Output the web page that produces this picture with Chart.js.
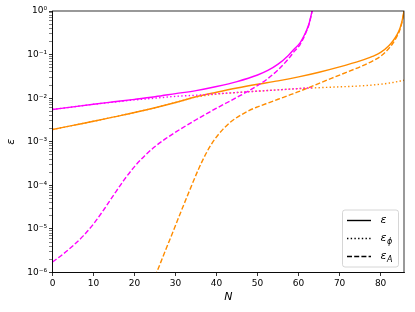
<!DOCTYPE html>
<html><head><meta charset="utf-8">
<script src="https://cdn.jsdelivr.net/npm/chart.js@4/dist/chart.umd.min.js"></script>
<style>html,body{margin:0;padding:0;background:#fff}</style>
</head><body>
<canvas id="c" width="415" height="312"></canvas>
<script>
// ---- data ----
const magentaSolidN = [0,5,10,15,20,25,30,35,40,45,50,52.5,55,57.5,59,60.3,61,62,62.5,63,63.3];
const magentaSolid  = [5.50e-3,6.31e-3,7.25e-3,8.25e-3,9.39e-3,1.08e-2,1.27e-2,1.49e-2,1.85e-2,2.40e-2,3.40e-2,4.32e-2,6.02e-2,9.55e-2,0.136,0.183,0.236,0.372,0.496,0.758,1.02];

const magentaDotN = [0,5,10,15,20,25,30,35,40,45,50,55,60,63.2];
const magentaDot  = [5.50e-3,6.31e-3,7.24e-3,8.13e-3,9.12e-3,1.00e-2,1.10e-2,1.17e-2,1.26e-2,1.35e-2,1.45e-2,1.55e-2,1.66e-2,1.74e-2];

const magentaDashN = [0,2.5,5,7.5,10,12.5,15,17.5,20,22.5,25,27.5,30,32.5,35,37.5,40,42.5,45,47.5,50,52.5,55,57.5,59,60.3,61,62,62.5,63,63.3];
const magentaDash  = [1.74e-6,2.60e-6,4.12e-6,6.92e-6,1.30e-5,2.75e-5,6.17e-5,1.35e-4,2.69e-4,4.79e-4,7.76e-4,1.16e-3,1.66e-3,2.32e-3,3.20e-3,4.37e-3,5.89e-3,7.85e-3,1.05e-2,1.41e-2,1.95e-2,2.82e-2,4.47e-2,7.94e-2,0.120,0.166,0.219,0.355,0.479,0.741,1.0];

const orangeSolidN = [0,5,10,15,20,25,30,35,40,45,50,55,60,65,70,75,78,80,82,83,84,84.7,85.2,85.7];
const orangeSolid  = [1.91e-3,2.37e-3,2.95e-3,3.72e-3,4.68e-3,6.03e-3,7.95e-3,1.08e-2,1.37e-2,1.71e-2,2.08e-2,2.49e-2,3.07e-2,3.93e-2,5.21e-2,7.16e-2,9.05e-2,0.112,0.160,0.205,0.287,0.397,0.575,1.0];

const orangeDotN = [0,5,10,15,20,25,30,35,40,45,50,55,60,65,70,75,80,83,85.7];
const orangeDot  = [1.91e-3,2.37e-3,2.95e-3,3.72e-3,4.68e-3,6.03e-3,7.94e-3,1.06e-2,1.24e-2,1.35e-2,1.45e-2,1.55e-2,1.66e-2,1.74e-2,1.82e-2,1.91e-2,2.09e-2,2.29e-2,2.57e-2];

const orangeDashN = [23,25.4,27,29.4,31,33.5,35.5,37.6,39.5,41.6,43.5,45.7,48,50,53,55,58,60,65,70,75,78,80,82,83,84,84.7,85.2,85.7];
const orangeDash  = [2.82e-7,1.0e-6,2.40e-6,8.71e-6,2.09e-5,7.94e-5,2.24e-4,5.75e-4,1.12e-3,1.95e-3,2.88e-3,3.98e-3,5.25e-3,6.31e-3,8.04e-3,9.44e-3,1.20e-2,1.41e-2,2.19e-2,3.39e-2,5.25e-2,7.08e-2,9.12e-2,0.138,0.182,0.263,0.372,0.550,0.933];

const xTicks = [0,10,20,30,40,50,60,70,80];
const yDecades = [-6,-5,-4,-3,-2,-1,0];
const legendLabels = [["ε",""],["ε","ϕ"],["ε","A"]];

// ---- styling ----
const MAG = '#ff00ff', ORA = '#ff8c00';
const LW = 1.4;
const DASH = [5,2.2], DOT = [1.4,2.3];
const FONT = 'DejaVu Sans';

const pts = (xs, ys) => xs.map((x,i)=>({x, y: ys[i]}));
const ds = (label, xs, ys, color, dash) => ({
  label, data: pts(xs, ys), borderColor: color, backgroundColor: color,
  borderWidth: LW, borderDash: dash, pointRadius: 0, fill: false,
  cubicInterpolationMode: 'monotone', borderCapStyle: 'butt'
});

const supMap = {'-':'⁻','0':'⁰','1':'¹','2':'²','3':'³','4':'⁴','5':'⁵','6':'⁶','7':'⁷','8':'⁸','9':'⁹'};
const sup = n => String(n).split('').map(c=>supMap[c]).join('');

const boxPlugin = {
  id: 'boxAndLegend',
  afterDraw(chart) {
    const {ctx, chartArea: a} = chart;
    ctx.save();
    ctx.strokeStyle = '#000';
    ctx.lineWidth = 0.8;
    ctx.strokeRect(a.left, a.top, a.right - a.left, a.bottom - a.top);
    // legend box (lower right inside axes)
    const w = 56, h = 57, m = 5.5;
    const bx = a.right - m - w, by = a.bottom - m - h;
    const r = 2.5;
    ctx.beginPath();
    ctx.moveTo(bx + r, by);
    ctx.arcTo(bx + w, by, bx + w, by + h, r);
    ctx.arcTo(bx + w, by + h, bx, by + h, r);
    ctx.arcTo(bx, by + h, bx, by, r);
    ctx.arcTo(bx, by, bx + w, by, r);
    ctx.closePath();
    ctx.fillStyle = 'rgba(255,255,255,0.8)';
    ctx.fill();
    ctx.strokeStyle = '#cccccc';
    ctx.lineWidth = 0.8;
    ctx.stroke();
    const dashes = [[], DOT, DASH];
    for (let i = 0; i < 3; i++) {
      const yy = by + 10.5 + i * 18;
      ctx.beginPath();
      ctx.setLineDash(dashes[i]);
      ctx.strokeStyle = '#000';
      ctx.lineWidth = LW;
      ctx.lineCap = 'butt';
      ctx.moveTo(bx + 4.5, yy);
      ctx.lineTo(bx + 28.5, yy);
      ctx.stroke();
      ctx.setLineDash([]);
      ctx.fillStyle = '#000';
      ctx.textBaseline = 'middle';
      ctx.textAlign = 'left';
      ctx.font = 'italic 11px "' + FONT + '"';
      const [main, sub] = legendLabels[i];
      ctx.fillText(main, bx + 38, yy);
      const mw = ctx.measureText(main).width;
      if (sub) {
        ctx.font = 'italic 8px "' + FONT + '"';
        ctx.fillText(sub, bx + 38 + mw + 0.5, yy + 3.5);
      }
    }
    ctx.restore();
  }
};

new Chart(document.getElementById('c'), {
  type: 'line',
  data: {
    datasets: [
      ds('ε (magenta)', magentaSolidN, magentaSolid, MAG, []),
      ds('ε_A (magenta)', magentaDashN, magentaDash, MAG, DASH),
      ds('ε_φ (magenta)', magentaDotN, magentaDot, MAG, DOT),
      ds('ε (orange)', orangeSolidN, orangeSolid, ORA, []),
      ds('ε_A (orange)', orangeDashN, orangeDash, ORA, DASH),
      ds('ε_φ (orange)', orangeDotN, orangeDot, ORA, DOT)
    ]
  },
  options: {
    responsive: false,
    animation: false,
    events: [],
    layout: { padding: { top: 11, right: 11, left: 0, bottom: 0 } },
    plugins: { legend: { display: false }, tooltip: { enabled: false } },
    scales: {
      x: {
        type: 'linear', min: 0, max: 85.7,
        afterBuildTicks: s => { s.ticks = xTicks.map(v => ({value: v})); },
        afterFit: s => { s.height = 39.5; },
        ticks: { autoSkip: false, maxRotation: 0, padding: 2, color: '#000', font: { family: FONT, size: 9 } },
        grid: { display: true, drawOnChartArea: false, drawTicks: true, tickLength: 3.5, tickColor: '#000', tickWidth: 0.8 },
        border: { display: true, color: '#000', width: 0.8 },
        title: { display: true, text: 'N', color: '#000', font: { family: FONT, size: 11, style: 'italic' }, padding: { top: 0, bottom: 8 } }
      },
      y: {
        type: 'logarithmic', min: 1e-6, max: 1,
        afterBuildTicks: s => {
          const t = [];
          yDecades.forEach(e => {
            for (let m = 1; m <= 9; m++) {
              const v = m * Math.pow(10, e);
              if (v <= 1.0000001) t.push({ value: v, major: m === 1 });
            }
          });
          s.ticks = t;
        },
        afterFit: s => { s.width = 52.5; },
        ticks: {
          autoSkip: false, padding: 2, color: '#000', font: { family: FONT, size: 9 },
          callback: (v) => {
            const e = Math.log10(v);
            const r = Math.round(e);
            return Math.abs(e - r) < 1e-6 ? '10' + sup(r) : '';
          }
        },
        grid: {
          display: true, drawOnChartArea: false, drawTicks: true, tickLength: 3.5, tickColor: '#000',
          tickWidth: c => (c.tick && c.tick.major ? 0.8 : 0.5)
        },
        border: { display: true, color: '#000', width: 0.8 },
        title: { display: true, text: 'ε', color: '#000', font: { family: FONT, size: 11, style: 'italic' }, padding: { top: 5, bottom: 0 } }
      }
    }
  },
  plugins: [boxPlugin]
});
</script>
</body></html>
